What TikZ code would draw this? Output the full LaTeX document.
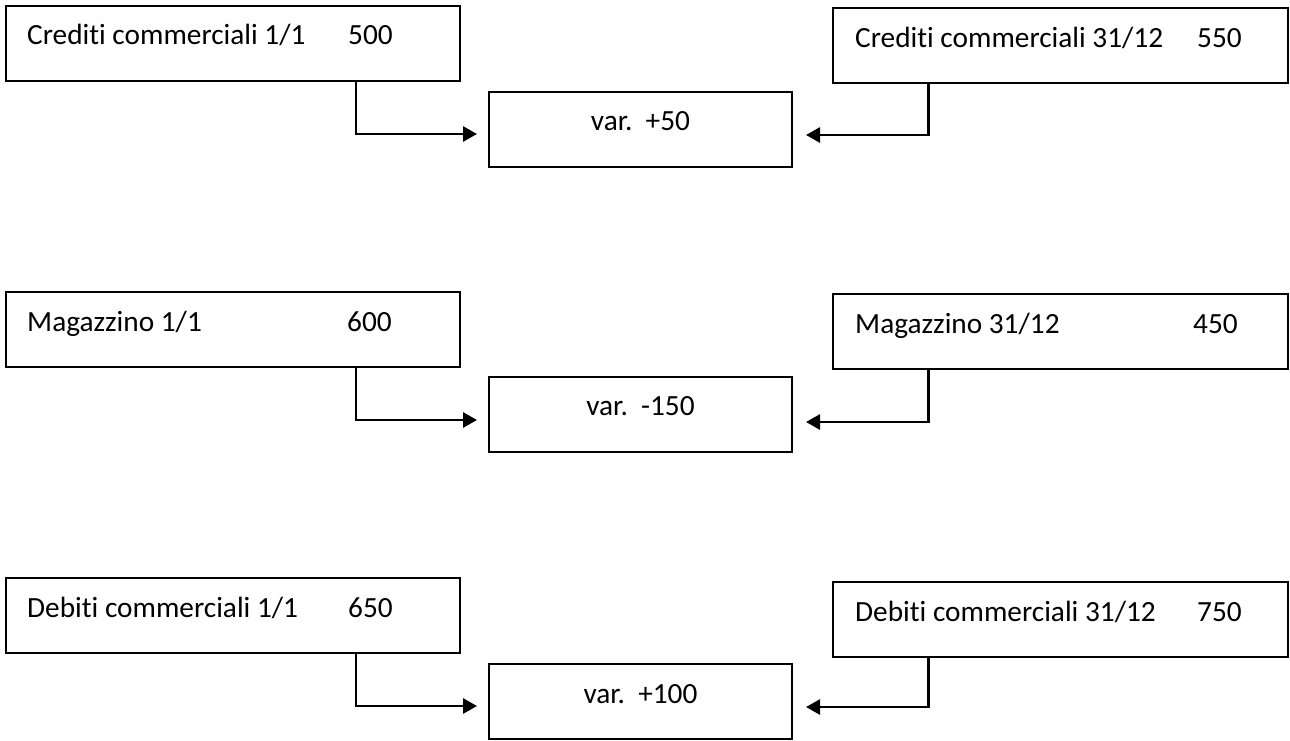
\documentclass[tikz,border=0pt]{standalone}
\usepackage{fontspec}
\setmainfont{Carlito}[Ligatures=NoCommon]
\usetikzlibrary{arrows.meta}
\begin{document}
\begin{tikzpicture}[x=1pt,y=-1pt,
  box/.style={draw=black, line width=1.8pt, rectangle, inner sep=0pt, outer sep=0pt, anchor=north west},
  sidebox/.style={box, minimum width=454pt, minimum height=75pt},
  varbox/.style={box, minimum width=303pt, minimum height=75pt},
  txt/.style={anchor=base west, inner sep=0pt, font=\fontsize{29.3}{35}\selectfont},
  vtxt/.style={anchor=base, inner sep=0pt, font=\fontsize{29.3}{35}\selectfont},
  conn/.style={draw=black, line width=2.8pt, -{Triangle[length=14pt,width=15pt]}}
]
\useasboundingbox (0,0) rectangle (1290,740);

% Row 1
\node[sidebox] (L1) at (6,6) {};
\node[txt] (L1t) at (27,44) {\makebox[321pt][l]{Crediti commerciali 1/1}500};
\node[varbox] (V1) at (489,92) {};
\node[vtxt] (V1t) at (640.5,130) {var.\ \ +50};
\node[sidebox, minimum width=455pt] (R1) at (833,8) {};
\node[txt] (R1t) at (855,47) {\makebox[342pt][l]{Crediti commerciali 31/12}550};
\coordinate (a1) at (477,134);
\coordinate (b1) at (806,135);
\draw[conn] (L1.south) -- ++(123,0) |- (a1);
\draw[conn] ([xshift=-12pt]R1.south) -- ++(-120,0) |- (b1);

% Row 2
\node[sidebox] (L2) at (6,292) {};
\node[txt] (L2t) at (27,331) {\makebox[320pt][l]{Magazzino 1/1}600};
\node[varbox] (V2) at (489,377) {};
\node[vtxt] (V2t) at (640.5,415) {var.\ \ -150};
\node[sidebox, minimum width=455pt] (R2) at (833,294) {};
\node[txt] (R2t) at (855,333) {\makebox[338pt][l]{Magazzino 31/12}450};
\coordinate (a2) at (477,420);
\coordinate (b2) at (806,422);
\draw[conn] (L2.south) -- ++(123,0) |- (a2);
\draw[conn] ([xshift=-12pt]R2.south) -- ++(-120,0) |- (b2);

% Row 3
\node[sidebox] (L3) at (6,578) {};
\node[txt] (L3t) at (27,617) {\makebox[321pt][l]{Debiti commerciali 1/1}650};
\node[varbox] (V3) at (489,664) {};
\node[vtxt] (V3t) at (640.5,703) {var.\ \ +100};
\node[sidebox, minimum width=455pt] (R3) at (833,582) {};
\node[txt] (R3t) at (855,621) {\makebox[342pt][l]{Debiti commerciali 31/12}750};
\coordinate (a3) at (477,706);
\coordinate (b3) at (806,707);
\draw[conn] (L3.south) -- ++(123,0) |- (a3);
\draw[conn] ([xshift=-12pt]R3.south) -- ++(-120,0) |- (b3);
\end{tikzpicture}
\end{document}
